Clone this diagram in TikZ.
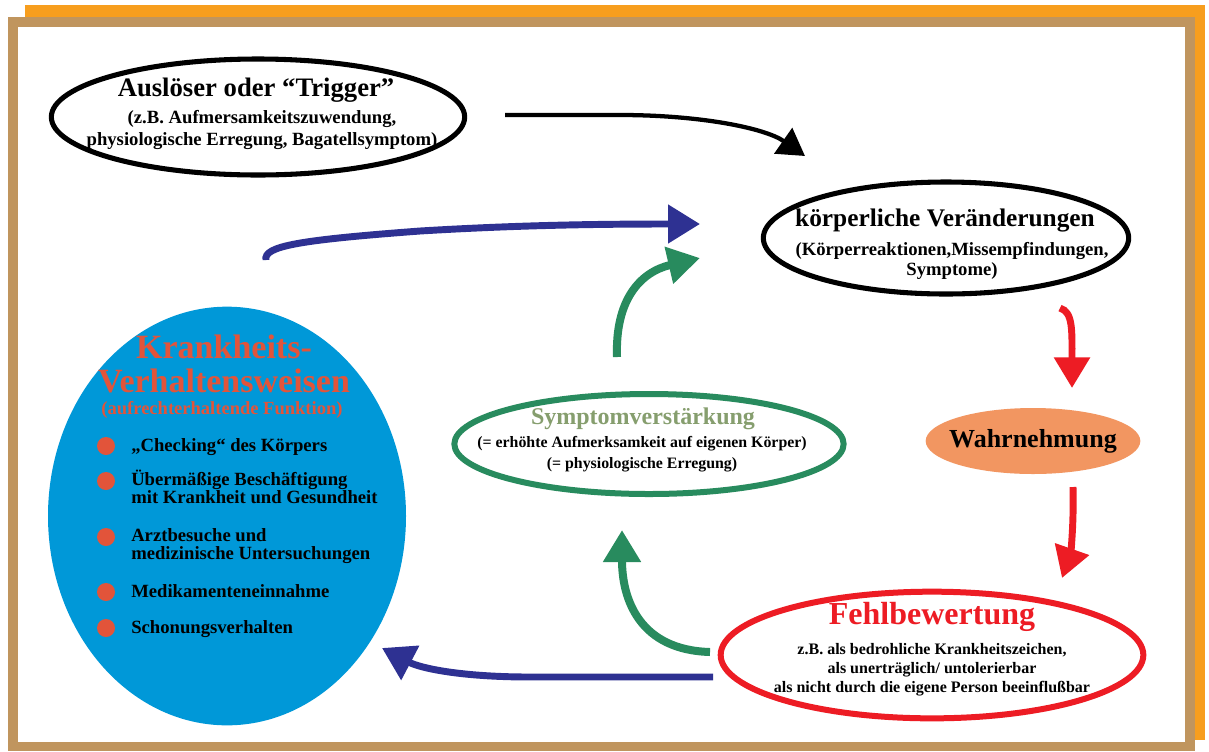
\documentclass[tikz,border=0pt]{standalone}
\usepackage{fontspec}
\setmainfont{Liberation Serif}
\usetikzlibrary{shapes.geometric,arrows.meta,positioning}
\definecolor{frameOrange}{RGB}{247,158,30}
\definecolor{frameTan}{RGB}{192,149,94}
\definecolor{behavBlue}{RGB}{0,152,216}
\definecolor{behavRed}{RGB}{226,84,58}
\definecolor{loopNavy}{RGB}{46,49,146}
\definecolor{loopGreen}{RGB}{40,139,94}
\definecolor{oliveText}{RGB}{134,158,110}
\definecolor{alarmRed}{RGB}{237,28,36}
\definecolor{perceiveSalmon}{RGB}{242,150,97}

\begin{document}
\begin{tikzpicture}[x=0.75pt,y=-0.75pt,
    box/.style={ellipse, inner sep=0pt},
    head/.style={font=\fontsize{20}{23}\selectfont\bfseries, inner sep=0pt},
    note/.style={font=\fontsize{14}{16.5}\selectfont\bfseries, inner sep=0pt, align=center},
    item/.style={font=\fontsize{14}{13.2}\selectfont\bfseries, inner sep=0pt, align=left, anchor=base west},
    dot/.style={circle, fill=behavRed, minimum size=13.5pt, inner sep=0pt},
    blackarr/.style={line width=3.2pt, -{Triangle[length=20pt,width=23pt]}},
    navyarr/.style={loopNavy, line width=5.2pt, -{Triangle[length=24pt,width=28pt]}},
    greenarr/.style={loopGreen, line width=6pt, -{Triangle[length=24pt,width=27pt]}},
    redarr/.style={alarmRed, line width=5.2pt, -{Triangle[length=23pt,width=26pt]}}]

\useasboundingbox (0,0) rectangle (1209,751);
% frame
\fill[frameOrange] (25,5) rectangle (1205,740);
\fill[frameTan] (8,17) rectangle (1195,751);
\fill[white] (18,27) rectangle (1185,742);

% ellipses
\node[box, draw, line width=3.8pt, minimum width=310pt, minimum height=87pt] (trigger) at (258,117) {};
\node[box, draw, line width=3.8pt, minimum width=274pt, minimum height=84pt] (body) at (946,238) {};
\node[box, fill=perceiveSalmon, minimum width=161pt, minimum height=49.5pt] (perceive) at (1033,441) {};
\node[box, draw=alarmRed, line width=4.5pt, minimum width=317pt, minimum height=95pt] (misjudge) at (932,655) {};
\node[box, draw=loopGreen, line width=4.5pt, minimum width=292pt, minimum height=75pt] (amplify) at (649,444) {};
\node[box, fill=behavBlue, minimum width=268.5pt, minimum height=314pt] (behav) at (227,516) {};

% texts
\node[head] (triggerT) at (256,90) {Auslöser oder “Trigger”};
\node[note] (triggerS) at (262,130) {(z.B. Aufmersamkeitszuwendung,\\physiologische Erregung, Bagatellsymptom)};
\node[head, font=\fontsize{19}{22}\selectfont\bfseries] (bodyT) at (945,220) {körperliche Veränderungen};
\node[note, font=\fontsize{14}{15}\selectfont\bfseries] (bodyS) at (952,261) {(Körperreaktionen,Missempfindungen,\\Symptome)};
\node[head, font=\fontsize{19.5}{22}\selectfont\bfseries] (perceiveT) at (perceive) {Wahrnehmung};
\node[head, font=\fontsize{24}{27}\selectfont\bfseries, text=alarmRed] (misjudgeT) at (932,617) {Fehlbewertung};
\node[note, font=\fontsize{12}{14.25}\selectfont\bfseries] (misjudgeS) at (932,670) {z.B. als bedrohliche Krankheitszeichen,\\als unerträglich/ untolerierbar\\als nicht durch die eigene Person beeinflußbar};
\node[head, font=\fontsize{18}{20}\selectfont\bfseries, text=oliveText] (amplifyT) at (643,419) {Symptomverstärkung};
\node[note, font=\fontsize{11.9}{15.75}\selectfont\bfseries] (amplifyS) at (642,454) {(= erhöhte Aufmerksamkeit auf eigenen Körper)\\(= physiologische Erregung)};
\node[note, font=\fontsize{25.5}{25.5}\selectfont\bfseries, text=behavRed] (behavT) at (224,364) {Krankheits-\\Verhaltensweisen};
\node[note, font=\fontsize{13.9}{15}\selectfont\bfseries, text=behavRed] (behavS) at (222,410) {(aufrechterhaltende Funktion)};

% list
\node[dot] (d1) at (106,446) {};
\node[dot] (d2) at (106,481) {};
\node[dot] (d3) at (106,537) {};
\node[dot] (d4) at (106,592) {};
\node[dot] (d5) at (106,628) {};
\node[item] (i1) at (131,451) {„Checking“ des Körpers};
\node[item] (i2) at (131,503) {Übermäßige Beschäftigung\\mit Krankheit und Gesundheit};
\node[item] (i3) at (131,559) {Arztbesuche und\\medizinische Untersuchungen};
\node[item] (i4) at (131,597) {Medikamenteneinnahme};
\node[item] (i5) at (131,633) {Schonungsverhalten};

% arrow ends
\coordinate (trigOut) at (505,115);
\coordinate (bodyIn) at (805,156);
\coordinate (behavOut) at (266,260);
\coordinate (bodyIn2) at (700,224);
\coordinate (ampOut) at (617,357);
\coordinate (bodyIn3) at (700,258);
\coordinate (bodyOut) at (1060,308);
\coordinate (percIn) at (1072,388);
\coordinate (percOut) at (1073,487);
\coordinate (misIn) at (1062,578);
\coordinate (misOut) at (710,652);
\coordinate (ampIn) at (622,530);
\coordinate (misOut2) at (713,677);
\coordinate (behavIn) at (382,648);

% arrows
\draw[blackarr] (trigOut) -- (620,115) .. controls (700,115) and (765,128) .. (bodyIn);
\draw[navyarr] (behavOut) .. controls (263,246) and (300,240) .. (420,231) .. controls (520,225) and (600,224) .. (bodyIn2);
\draw[greenarr] (ampOut) .. controls (615,300) and (640,272) .. (bodyIn3);
\draw[redarr] (bodyOut) .. controls (1073,312) and (1072,330) .. (percIn);
\draw[redarr] (percOut) .. controls (1074,530) and (1070,555) .. (misIn);
\draw[greenarr] (misOut) .. controls (640,650) and (622,600) .. (ampIn);
\draw[navyarr] (misOut2) -- (530,677) .. controls (460,677) and (420,668) .. (behavIn);
\end{tikzpicture}
\end{document}
